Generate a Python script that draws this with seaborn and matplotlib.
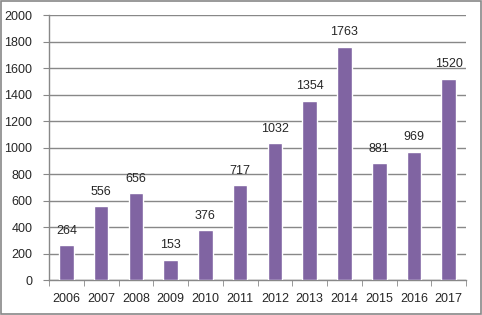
import numpy as np
import pandas as pd
import matplotlib
matplotlib.use('Agg')
import matplotlib.pyplot as plt
import seaborn as sns

years = ['2006', '2007', '2008', '2009', '2010', '2011',
         '2012', '2013', '2014', '2015', '2016', '2017']
counts = [264, 556, 656, 153, 376, 717, 1032, 1354, 1763, 881, 969, 1520]

sns.set_style('white')
plt.rcParams['font.family'] = ['Liberation Sans', 'DejaVu Sans']

df = pd.DataFrame({'year': years, 'count': counts})

fig = plt.figure(figsize=(4.82, 3.15), dpi=100)
ax = fig.add_axes([0.1017, 0.111, 0.8653, 0.841])

sns.barplot(data=df, x='year', y='count', color='#8064A2', saturation=1,
            width=0.42, ax=ax, zorder=3)

ax.set_ylim(0, 2000)
ax.set_yticks(range(0, 2001, 200))
ax.set_xlim(-0.5, len(years) - 0.5)
ax.yaxis.grid(True, color='#888888', linewidth=1, zorder=0)
ax.set_axisbelow(True)

for s in ['top', 'right']:
    ax.spines[s].set_visible(False)
for s in ['left', 'bottom']:
    ax.spines[s].set_color('#888888')
    ax.spines[s].set_linewidth(1)

# tick marks between categories on the x axis
ax.set_xticks(np.arange(-0.5, len(years), 1.0), minor=True)
ax.tick_params(axis='x', which='major', length=0, labelsize=9, pad=9)
ax.tick_params(axis='x', which='minor', length=4, color='#888888', direction='out')
ax.tick_params(axis='y', length=4, color='#888888', direction='out', labelsize=9, pad=8)
ax.yaxis.set_tick_params(left=True)
ax.xaxis.set_tick_params(which='minor', bottom=True)

ax.bar_label(ax.containers[0], labels=[str(c) for c in counts],
             padding=6, fontsize=9)

ax.set_xlabel('')
ax.set_ylabel('')

# outer border of the chart
fig.patches.append(plt.Rectangle((0.002, 0.003), 0.995, 0.993, transform=fig.transFigure,
                                 fill=False, edgecolor='#888888', linewidth=1.2))

fig.savefig('out.png', dpi=100)
